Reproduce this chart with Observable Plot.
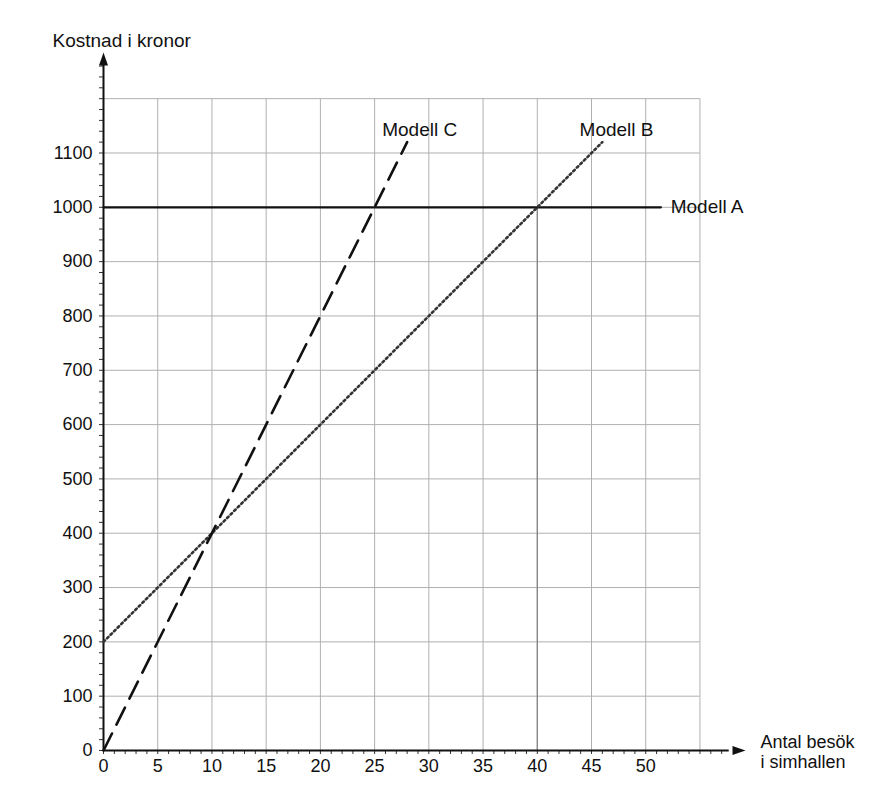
<!DOCTYPE html>
<html>
<head>
<meta charset="utf-8">
<script src="https://cdn.jsdelivr.net/npm/d3@7"></script>
<script src="https://cdn.jsdelivr.net/npm/@observablehq/plot@0.6"></script>
<style>
  body { margin: 0; background: #fff; }
  svg { font-family: "Liberation Sans", Arial, sans-serif; }
</style>
</head>
<body>
<div id="chart"></div>
<script>
// ---- data ----
const xTicks = [0, 5, 10, 15, 20, 25, 30, 35, 40, 45, 50];
const yTicks = [0, 100, 200, 300, 400, 500, 600, 700, 800, 900, 1000, 1100];
const gridX = [5, 10, 15, 20, 25, 30, 35, 40, 45, 50, 55];
const gridY = [100, 200, 300, 400, 500, 600, 700, 800, 900, 1000, 1100, 1200];
const modellA = [{x: 0, y: 1000}, {x: 51.4, y: 1000}];
const modellB = [{x: 0, y: 200}, {x: 46, y: 1120}];
const modellC = [{x: 0, y: 0}, {x: 28, y: 1120}];
const labels = [
  {name: "Modell C", x: 25.7, y: 1142},
  {name: "Modell B", x: 43.9, y: 1142},
  {name: "Modell A", x: 52.3, y: 1000}
];
const xMinor = d3.range(0, 58, 1);
const yMinor = d3.range(0, 1261, 20);
const xMax = 59.2, yMax = 1285;

const arrowHead = {
  draw(context, size) {
    context.moveTo(0, 0);
    context.lineTo(-4.5, 13);
    context.lineTo(4.5, 13);
    context.closePath();
  }
};

const chart = Plot.plot({
  width: 889,
  height: 800,
  marginLeft: 103,
  marginRight: 144,
  marginTop: 52,
  marginBottom: 50,
  x: {domain: [0, xMax], label: null},
  y: {domain: [0, yMax], label: null},
  style: {fontSize: "18px", fontFamily: "'Liberation Sans', Arial, sans-serif", background: "#fff"},
  marks: [
    // grid
    Plot.ruleX(gridX, {y1: 0, y2: 1200, stroke: "#b0b0b0", strokeWidth: 1}),
    Plot.ruleY(gridY, {x1: 0, x2: 55, stroke: "#b0b0b0", strokeWidth: 1}),
    Plot.ruleX([40], {y1: 0, y2: 1000, stroke: "#808080", strokeWidth: 1.2}),
    // minor ticks
    Plot.axisX({ticks: xMinor, tickSize: 4, tickFormat: () => "", stroke: "#333", label: null}),
    Plot.axisY({ticks: yMinor, tickSize: 4, tickFormat: () => "", stroke: "#333", label: null}),
    // tick labels
    Plot.axisX({ticks: xTicks, tickSize: 0, tickPadding: 9, fill: "#111", label: null, tickFormat: d => String(d)}),
    Plot.axisY({ticks: yTicks, tickSize: 0, tickPadding: 11, fill: "#111", label: null, tickFormat: d => String(d)}),
    // axes lines
    Plot.ruleX([0], {y1: 0, y2: yMax - 20, stroke: "#111", strokeWidth: 2}),
    Plot.ruleY([0], {x1: 0, x2: xMax - 1.5, stroke: "#111", strokeWidth: 2}),
    Plot.dot([{x: 0, y: yMax}], {x: "x", y: "y", symbol: arrowHead, fill: "#111", stroke: null, r: 5}),
    Plot.dot([{x: xMax, y: 0}], {x: "x", y: "y", symbol: arrowHead, fill: "#111", stroke: null, r: 5, rotate: 90}),
    // lines
    Plot.line(modellA, {x: "x", y: "y", stroke: "#111", strokeWidth: 2.2}),
    Plot.line(modellB, {x: "x", y: "y", stroke: "#333", strokeWidth: 2.6, strokeDasharray: "2,3"}),
    Plot.line(modellC, {x: "x", y: "y", stroke: "#111", strokeWidth: 2.6, strokeDasharray: "19,10"}),
    // labels
    Plot.text(labels, {x: "x", y: "y", text: "name", textAnchor: "start", fill: "#111", fontSize: 19}),
    Plot.text(["Kostnad i kronor"], {frameAnchor: "top-left", dx: -51, dy: -19, textAnchor: "start", fill: "#111", fontSize: 19}),
    Plot.text(["Antal besök\ni simhallen"], {frameAnchor: "bottom-right", dx: 15, dy: 1, textAnchor: "start", fill: "#111", fontSize: 18, lineHeight: 1.12, lineAnchor: "middle"})
  ]
});
document.getElementById("chart").appendChild(chart);
</script>
</body>
</html>
